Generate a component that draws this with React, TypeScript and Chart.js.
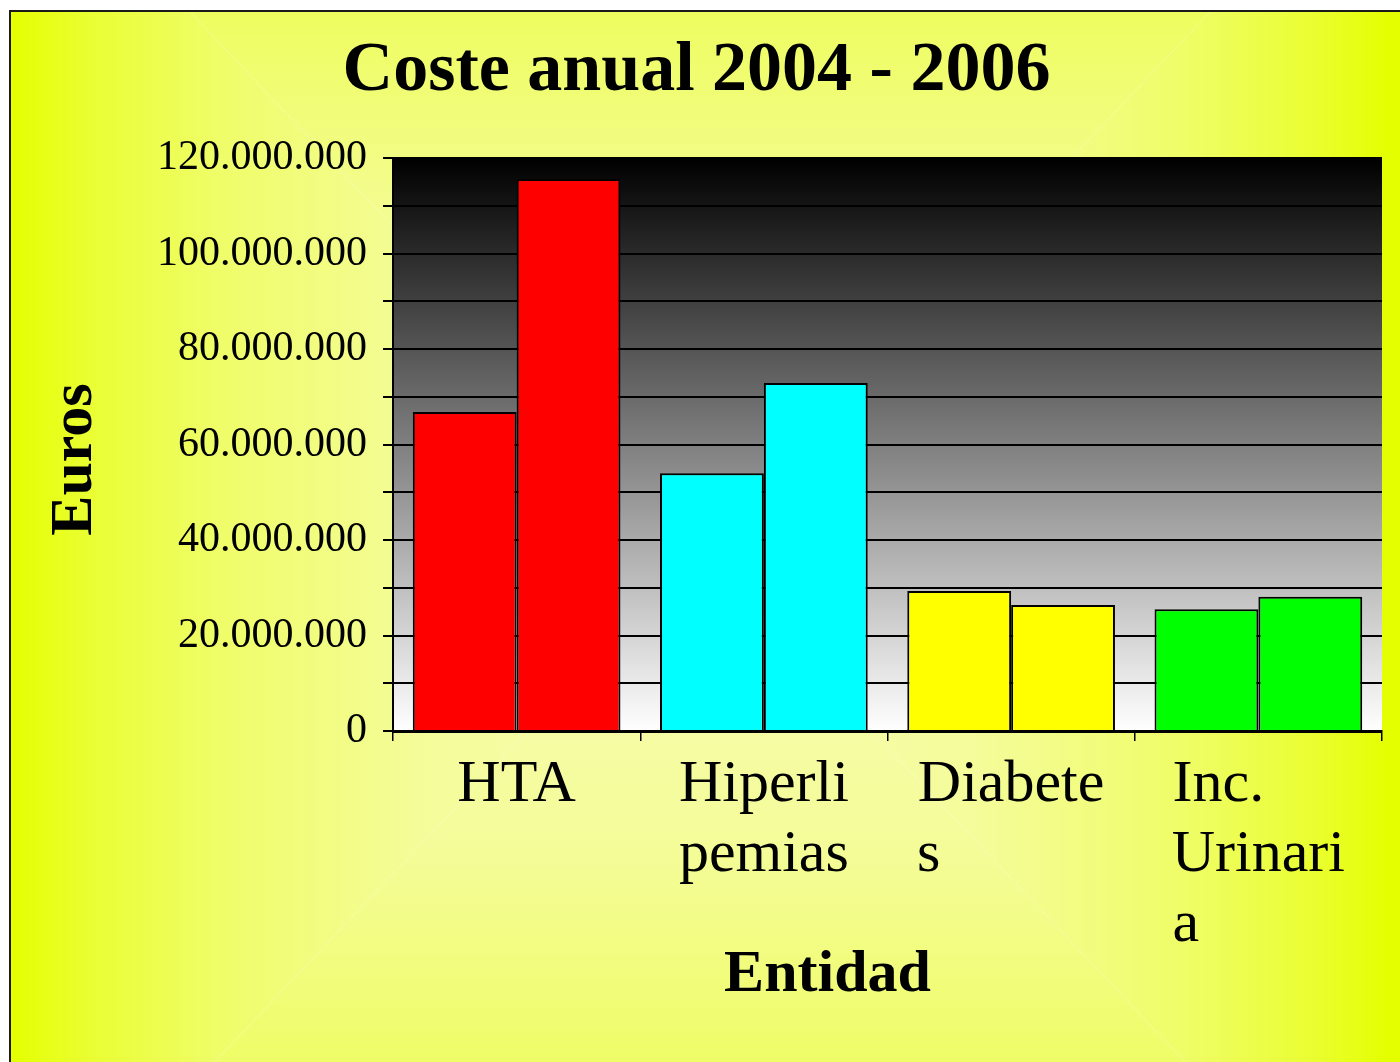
import React, { useEffect, useRef } from 'react';
import { Chart, registerables } from 'chart.js';

Chart.register(...registerables);

// ---- data ----
const categoryLines: string[][] = [
  ['HTA'],
  ['Hiperli', 'pemias'],
  ['Diabete', 's'],
  ['Inc.', 'Urinari', 'a'],
];
const seriesNames = ['2004', '2006'];
const seriesFirst = [66800000, 54000000, 29300000, 25500000];
const seriesSecond = [115600000, 72900000, 26400000, 28100000];
const categoryColors = ['#ff0000', '#00ffff', '#ffff00', '#00ff00'];
const yMax = 120000000;
const yStep = 10000000;
const yLabelStep = 20000000;
const chartTitle = 'Coste anual 2004 - 2006';
const yTitle = 'Euros';
const xTitle = 'Entidad';

const FAMILY = "'Liberation Serif', 'Times New Roman', serif";

function fmt(v: number): string {
  return String(Math.round(v)).replace(/\B(?=(\d{3})+(?!\d))/g, '.');
}

// pad shorter lines with trailing spaces so that a centred multi-line label looks left-aligned
function padLines(lines: string[], font: string): string[] {
  const c = document.createElement('canvas').getContext('2d') as CanvasRenderingContext2D;
  c.font = font;
  const widths = lines.map((l) => c.measureText(l).width);
  const max = Math.max(...widths);
  const sp = c.measureText(' ').width || 1;
  const hair = c.measureText('\u200A').width;
  return lines.map((l, i) => {
    let rest = max - widths[i];
    const n = Math.floor(rest / sp);
    rest -= n * sp;
    let out = l + ' '.repeat(Math.max(0, n));
    if (hair > 0.5) out += '\u200A'.repeat(Math.max(0, Math.round(rest / hair)));
    return out;
  });
}

const backgroundPlugin = {
  id: 'bgPlugin',
  beforeDraw(chart: any) {
    const { ctx, chartArea: a } = chart;
    ctx.save();
    // frame background: rectangular "from centre" gradient
    const cx = 689, cy = 538, hx = 690, hy = 728;
    const stops: [number, string][] = [
      [0, '#f7fbb2'],
      [0.4, '#f4fc9a'],
      [0.7, '#effd68'],
      [0.88, '#eafe34'],
      [1, '#e4ff00'],
    ];
    const K = 4;
    const regions = [
      { pts: [[-hx, -hy], [hx, -hy]], g: [cx, cy, cx, cy - hy] },
      { pts: [[-hx, hy], [hx, hy]], g: [cx, cy, cx, cy + hy] },
      { pts: [[-hx, -hy], [-hx, hy]], g: [cx, cy, cx - hx, cy] },
      { pts: [[hx, -hy], [hx, hy]], g: [cx, cy, cx + hx, cy] },
    ];
    for (const r of regions) {
      const g = ctx.createLinearGradient(r.g[0], r.g[1], r.g[2], r.g[3]);
      for (const [t, c] of stops) g.addColorStop(t, c);
      ctx.fillStyle = g;
      ctx.beginPath();
      ctx.moveTo(cx, cy);
      ctx.lineTo(cx + K * r.pts[0][0], cy + K * r.pts[0][1]);
      ctx.lineTo(cx + K * r.pts[1][0], cy + K * r.pts[1][1]);
      ctx.closePath();
      ctx.fill();
    }
    // plot area: black to white vertical gradient
    const pg = ctx.createLinearGradient(0, a.top, 0, a.bottom);
    pg.addColorStop(0, '#000000');
    pg.addColorStop(1, '#ffffff');
    ctx.fillStyle = pg;
    ctx.fillRect(a.left, a.top, a.right - a.left, a.bottom - a.top);
    ctx.restore();
  },
};

export default function App() {
  const ref = useRef<HTMLCanvasElement | null>(null);

  useEffect(() => {
    if (!ref.current) return;
    const labels = categoryLines.map((lines) => padLines(lines, `60px ${FAMILY}`));
    const chart = new Chart(ref.current, {
      type: 'bar',
      data: {
        labels,
        datasets: [seriesFirst, seriesSecond].map((d, i) => ({
          label: seriesNames[i],
          data: d,
          backgroundColor: categoryColors,
          borderColor: '#000000',
          borderWidth: 2,
          categoryPercentage: 0.84,
          barPercentage: 1,
        })),
      },
      options: {
        animation: false,
        responsive: true,
        maintainAspectRatio: false,
        devicePixelRatio: 1,
        layout: { padding: { left: 0, top: 0, right: 18, bottom: 0 } },
        plugins: {
          legend: { display: false },
          tooltip: { enabled: false },
          title: {
            display: true,
            text: chartTitle,
            color: '#000000',
            font: { family: FAMILY, size: 70, weight: 'bold', lineHeight: 1.2 },
            padding: { top: 18, bottom: 44 },
          },
        },
        scales: {
          x: {
            afterFit: (s: any) => {
              s.height = 331;
            },
            ticks: {
              color: '#000000',
              font: { family: FAMILY, size: 60, lineHeight: 70 / 60 },
              padding: 9,
              maxRotation: 0,
              minRotation: 0,
              autoSkip: false,
            },
            grid: {
              drawOnChartArea: false,
              drawTicks: true,
              tickLength: 10,
              color: '#000000',
              lineWidth: 1.5,
            },
            border: { color: '#000000', width: 3 },
            title: {
              display: true,
              text: xTitle + '        ',
              color: '#000000',
              font: { family: FAMILY, size: 60, weight: 'bold', lineHeight: 1.2 },
              padding: { top: 0, bottom: 51 },
            },
          },
          y: {
            min: 0,
            max: yMax,
            afterFit: (s: any) => {
              s.width = 382;
            },
            ticks: {
              stepSize: yStep,
              autoSkip: false,
              color: '#000000',
              padding: 16,
              font: { family: FAMILY, size: 42 },
              callback: (v: any) => (Number(v) % yLabelStep === 0 ? fmt(Number(v)) : ''),
            },
            grid: {
              color: '#000000',
              lineWidth: 2,
              tickLength: 10,
              tickColor: '#000000',
              tickWidth: 2,
            },
            border: { color: '#000000', width: 2 },
            title: {
              display: true,
              text: yTitle + '  ',
              color: '#000000',
              font: { family: FAMILY, size: 60, weight: 'bold', lineHeight: 1.2 },
              padding: { top: 28, bottom: 0 },
            },
          },
        },
      } as any,
      plugins: [backgroundPlugin],
    });
    return () => chart.destroy();
  }, []);

  return (
    <>
      <style>{'html,body{overflow:hidden;}'}</style>
      <div
        style={{
          position: 'absolute',
          left: 9,
          top: 10,
          borderLeft: '2px solid #1a1a1a',
          borderTop: '2px solid #1a1a1a',
          width: 1389,
          height: 1050,
        }}
      >
        <div style={{ position: 'relative', width: 1389, height: 1050 }}>
          <canvas ref={ref} />
        </div>
      </div>
    </>
  );
}
